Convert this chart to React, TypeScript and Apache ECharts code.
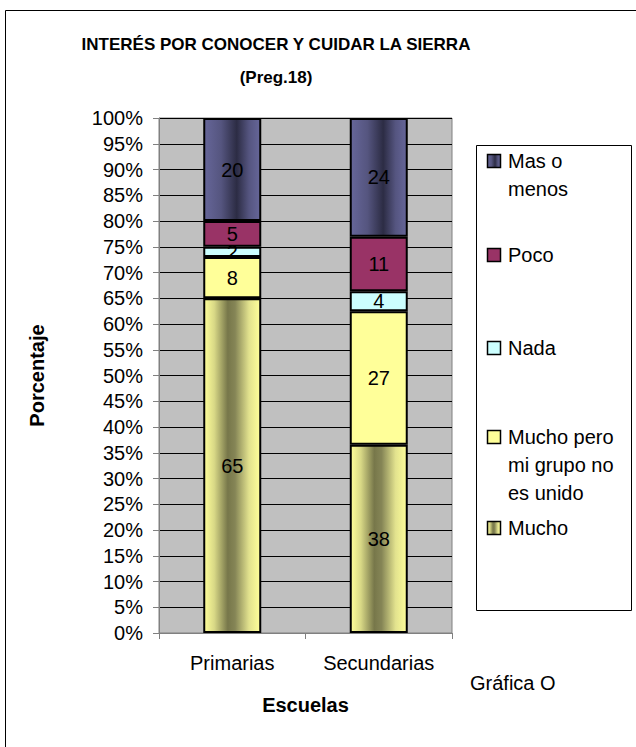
import React, { useEffect, useRef } from "react";
import * as echarts from "echarts";

const categories = ["Primarias", "Secundarias"];
const seriesNames = ["Mucho", "Mucho pero\nmi grupo no\nes unido", "Nada", "Poco", "Mas o\nmenos"];
const mucho = [65, 38];
const muchoPero = [8, 27];
const nada = [2, 4];
const poco = [5, 11];
const masOMenos = [20, 24];
const yTicks = [0, 5, 10, 15, 20, 25, 30, 35, 40, 45, 50, 55, 60, 65, 70, 75, 80, 85, 90, 95, 100];

const FONT = "'Liberation Sans', Arial, sans-serif";

const muchoGrad = new echarts.graphic.LinearGradient(0, 0, 1, 0, [
  { offset: 0, color: "#FFFF99" },
  { offset: 0.18, color: "#D8D886" },
  { offset: 0.42, color: "#77774A" },
  { offset: 0.55, color: "#858556" },
  { offset: 0.8, color: "#E2E28E" },
  { offset: 1, color: "#FFFF99" },
]);
const masGrad = new echarts.graphic.LinearGradient(0, 0, 1, 0, [
  { offset: 0, color: "#666699" },
  { offset: 0.3, color: "#55557F" },
  { offset: 0.58, color: "#2C2C44" },
  { offset: 0.8, color: "#555580" },
  { offset: 1, color: "#666699" },
]);

export default function App() {
  const ref = useRef<HTMLDivElement>(null);
  useEffect(() => {
    if (!ref.current) return;
    const chart = echarts.init(ref.current, null, { renderer: "svg" });
    const raw = [mucho, muchoPero, nada, poco, masOMenos];
    const totals = categories.map((_, i) => raw.reduce((s, arr) => s + arr[i], 0));
    const fills: any[] = [muchoGrad, "#FFFF99", "#CCFFFF", "#993366", masGrad];
    const series = raw.map((arr, si) => ({
      name: seriesNames[si],
      type: "bar",
      stack: "total",
      barWidth: 58,
      data: arr.map((v, i) => (v / totals[i]) * 100),
      itemStyle: { color: fills[si], borderColor: "#000", borderWidth: 2 },
      label: {
        show: true,
        position: "inside",
        color: "#000",
        fontSize: 20,
        fontFamily: FONT,
        formatter: (p: any) => String(arr[p.dataIndex]),
      },
    }));

    const legendTops = [161, 255, 348, 437, 528];
    const legendGraphics: any[] = [];
    seriesNames.forEach((n, si) => {
      const y = legendTops[4 - si];
      legendGraphics.push({
        type: "rect",
        shape: { x: 487.5, y: y - 6.5, width: 13, height: 13 },
        style: { fill: fills[si], stroke: "#000", lineWidth: 1.5 },
      });
      legendGraphics.push({
        type: "text",
        x: 508,
        y: y - 14,
        style: {
          text: n,
          fill: "#000",
          font: `20px ${FONT}`,
          lineHeight: 28,
          textVerticalAlign: "top",
        },
      });
    });

    chart.setOption({
      animation: false,
      backgroundColor: "#fff",
      title: {
        text: "INTERÉS POR CONOCER Y CUIDAR LA SIERRA\n(Preg.18)",
        left: 271,
        top: 23,
        textAlign: "center",
        textStyle: { fontSize: 17, fontWeight: "bold", fontFamily: FONT, color: "#000", lineHeight: 33 },
      },
      grid: {
        left: 159,
        right: 184,
        top: 118,
        bottom: 114,
        show: true,
        backgroundColor: "#C0C0C0",
        borderWidth: 1,
        borderColor: "#808080",
      },
      xAxis: {
        type: "category",
        data: categories,
        name: "Escuelas",
        nameLocation: "middle",
        nameGap: 62,
        nameTextStyle: { fontSize: 20, fontWeight: "bold", fontFamily: FONT, color: "#000" },
        axisLine: { lineStyle: { color: "#808080", width: 1 } },
        axisTick: { show: true, alignWithLabel: false, length: 6, lineStyle: { color: "#808080" } },
        axisLabel: { fontSize: 20, fontFamily: FONT, color: "#000", margin: 20 },
      },
      yAxis: {
        type: "value",
        min: 0,
        max: 100,
        interval: 5,
        name: "Porcentaje",
        nameLocation: "middle",
        nameGap: 112,
        nameTextStyle: { fontSize: 20, fontWeight: "bold", fontFamily: FONT, color: "#000" },
        axisLine: { show: true, lineStyle: { color: "#808080" } },
        axisTick: { show: true, length: 6, lineStyle: { color: "#808080" } },
        axisLabel: {
          fontSize: 20,
          fontFamily: FONT,
          color: "#000",
          margin: 16,
          formatter: (v: number) => (yTicks.includes(v) ? v + "%" : ""),
        },
        splitLine: { show: true, lineStyle: { color: "#000", width: 1 } },
      },
      series,
      graphic: [
        {
          type: "rect",
          silent: true,
          shape: { x: 5.5, y: 10.5, width: 640, height: 760 },
          style: { fill: "none", stroke: "#000", lineWidth: 1 },
        },
        {
          type: "rect",
          shape: { x: 476.5, y: 145.5, width: 155, height: 465 },
          style: { fill: "#fff", stroke: "#000", lineWidth: 1 },
        },
        ...legendGraphics,
        {
          type: "text",
          x: 470,
          y: 683,
          style: { text: "Gráfica O", fill: "#000", font: `20px ${FONT}`, textVerticalAlign: "middle" },
        },
      ],
    });
    return () => chart.dispose();
  }, []);
  return <div ref={ref} style={{ position: "absolute", left: 0, top: 0, width: 636, height: 747 }} />;
}
